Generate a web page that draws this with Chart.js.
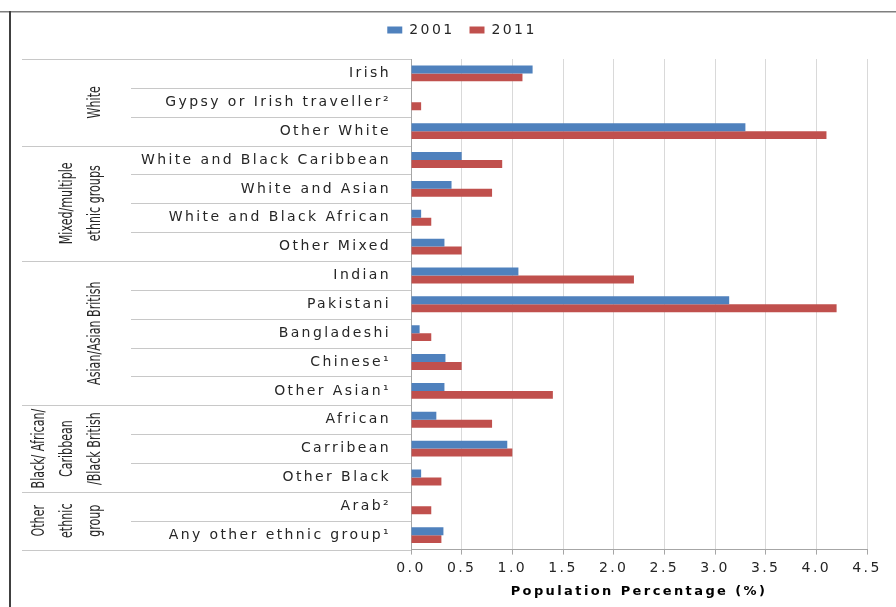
<!DOCTYPE html>
<html>
<head>
<meta charset="utf-8">
<script src="https://cdn.jsdelivr.net/npm/chart.js@4"></script>
<style>
  html, body { margin: 0; padding: 0; background: #fff; }
  #wrap { position: relative; width: 896px; height: 607px; }
</style>
</head>
<body>
<div id="wrap"><canvas id="grafico"></canvas></div>
<script>
const categorias = [
    "Irish", "Gypsy or Irish traveller²", "Other White",
    "White and Black Caribbean", "White and Asian", "White and Black African", "Other Mixed",
    "Indian", "Pakistani", "Bangladeshi", "Chinese¹", "Other Asian¹",
    "African", "Carribean", "Other Black",
    "Arab²", "Any other ethnic group¹"
];
const valores2001 = [1.2, null, 3.3, 0.5, 0.4, 0.1, 0.33, 1.06, 3.14, 0.085, 0.34, 0.33, 0.25, 0.95, 0.1, null, 0.32];
const valores2011 = [1.1, 0.1, 4.1, 0.9, 0.8, 0.2, 0.5, 2.2, 4.2, 0.2, 0.5, 1.4, 0.8, 1.0, 0.3, 0.2, 0.3];

const grupos = [
    ["White"],
    ["Mixed/multiple", "ethnic groups"],
    ["Asian/Asian British"],
    ["Black/ African/", "Caribbean", "/Black British"],
    ["Other", "ethnic", "group"]
];
const tamanhoGrupos = [3, 4, 5, 3, 2];

const EIXO_X = 411;
const TOPO = 59;
const PAD_TOPO = 8;
const ESPACO = "2.4px";

/* espaçamento das letras (o canvas perde o estado ao redimensionar) */
const espacamento = {
    id: "espacamento",
    afterInit(chart) {
        // legenda mais alta para a área do gráfico começar em TOPO
        const fitOriginal = chart.legend.fit;
        chart.legend.fit = function () {
            fitOriginal.call(this);
            this.height = TOPO - PAD_TOPO;
        };
    },
    beforeUpdate(chart) { chart.ctx.letterSpacing = ESPACO; },
    beforeLayout(chart) { chart.ctx.letterSpacing = ESPACO; },
    beforeDraw(chart) { chart.ctx.letterSpacing = ESPACO; }
};

/* moldura, separadores e rótulos dos grupos */
const grupoPlugin = {
    id: "grupos",
    afterDraw(chart) {
        const ctx = chart.ctx;
        const y = chart.scales.y;
        const n = categorias.length;

        const limite = i => {
            if (i <= 0) return y.top;
            if (i >= n) return y.bottom;
            return (y.getPixelForValue(i - 1) + y.getPixelForValue(i)) / 2;
        };

        ctx.save();
        ctx.letterSpacing = "0px";

        // moldura
        ctx.fillStyle = "#7f7f7f";
        ctx.fillRect(0, 11, chart.width, 1.5);
        ctx.fillStyle = "#404040";
        ctx.fillRect(9, 11, 2, chart.height - 11);

        // separadores
        ctx.strokeStyle = "#c8c8c8";
        ctx.lineWidth = 1;
        const inicioGrupo = new Set([0]);
        let acc = 0;
        tamanhoGrupos.forEach(t => { acc += t; inicioGrupo.add(acc); });
        for (let i = 0; i <= n; i++) {
            const py = Math.round(limite(i)) + 0.5;
            const x0 = inicioGrupo.has(i) ? 22 : 131;
            ctx.beginPath();
            ctx.moveTo(x0, py);
            ctx.lineTo(EIXO_X, py);
            ctx.stroke();
        }

        // rótulos dos grupos
        ctx.fillStyle = "#262626";
        ctx.font = "13px 'Liberation Sans Narrow', 'DejaVu Sans Condensed', 'Roboto', sans-serif";
        ctx.textAlign = "center";
        ctx.textBaseline = "middle";
        let ini = 0;
        grupos.forEach((linhas, g) => {
            const fim = ini + tamanhoGrupos[g];
            const cy = (limite(ini) + limite(fim)) / 2;
            linhas.forEach((txt, k) => {
                const cx = 96 - (linhas.length - 1 - k) * 28;
                ctx.save();
                ctx.translate(cx, cy);
                ctx.rotate(-Math.PI / 2);
                ctx.scale(0.95, 1.3);
                ctx.fillText(txt, 0, 0);
                ctx.restore();
            });
            ini = fim;
        });
        ctx.restore();
    }
};

const PAD_ESQ = 57;

new Chart(document.getElementById("grafico"), {
    type: "bar",
    data: {
        labels: categorias,
        datasets: [
            { label: "2001", data: valores2001, backgroundColor: "#4F81BD" },
            { label: "2011", data: valores2011, backgroundColor: "#C0504D" }
        ]
    },
    options: {
        indexAxis: "y",
        responsive: true,
        maintainAspectRatio: false,
        animation: false,
        datasets: { bar: { categoryPercentage: 0.55, barPercentage: 1.0 } },
        layout: { padding: { left: PAD_ESQ, right: 29, top: PAD_TOPO, bottom: 1 } },
        plugins: {
            legend: {
                position: "top",
                labels: {
                    boxWidth: 15,
                    boxHeight: 7,
                    padding: 15,
                    color: "#262626",
                    font: { family: "'DejaVu Sans'", size: 14 }
                }
            },
            tooltip: { enabled: false }
        },
        scales: {
            x: {
                min: 0,
                max: 4.5,
                ticks: {
                    stepSize: 0.5,
                    padding: 5,
                    color: "#262626",
                    font: { family: "'DejaVu Sans'", size: 14 },
                    callback: v => Number(v).toFixed(1)
                },
                grid: { color: "#d9d9d9", tickColor: "#a6a6a6", tickLength: 5 },
                border: { color: "#a6a6a6" },
                title: {
                    display: true,
                    text: "Population Percentage (%)",
                    color: "#000",
                    font: { family: "'DejaVu Sans'", size: 13, weight: "bold" },
                    padding: { top: 2, bottom: 7 }
                }
            },
            y: {
                grid: { display: false, drawTicks: false },
                border: { color: "#a6a6a6" },
                ticks: {
                    padding: 20,
                    autoSkip: false,
                    color: "#262626",
                    font: { family: "'DejaVu Sans'", size: 14 }
                },
                afterFit(scale) { scale.width = EIXO_X - PAD_ESQ; }
            }
        }
    },
    plugins: [espacamento, grupoPlugin]
});
</script>
</body>
</html>
